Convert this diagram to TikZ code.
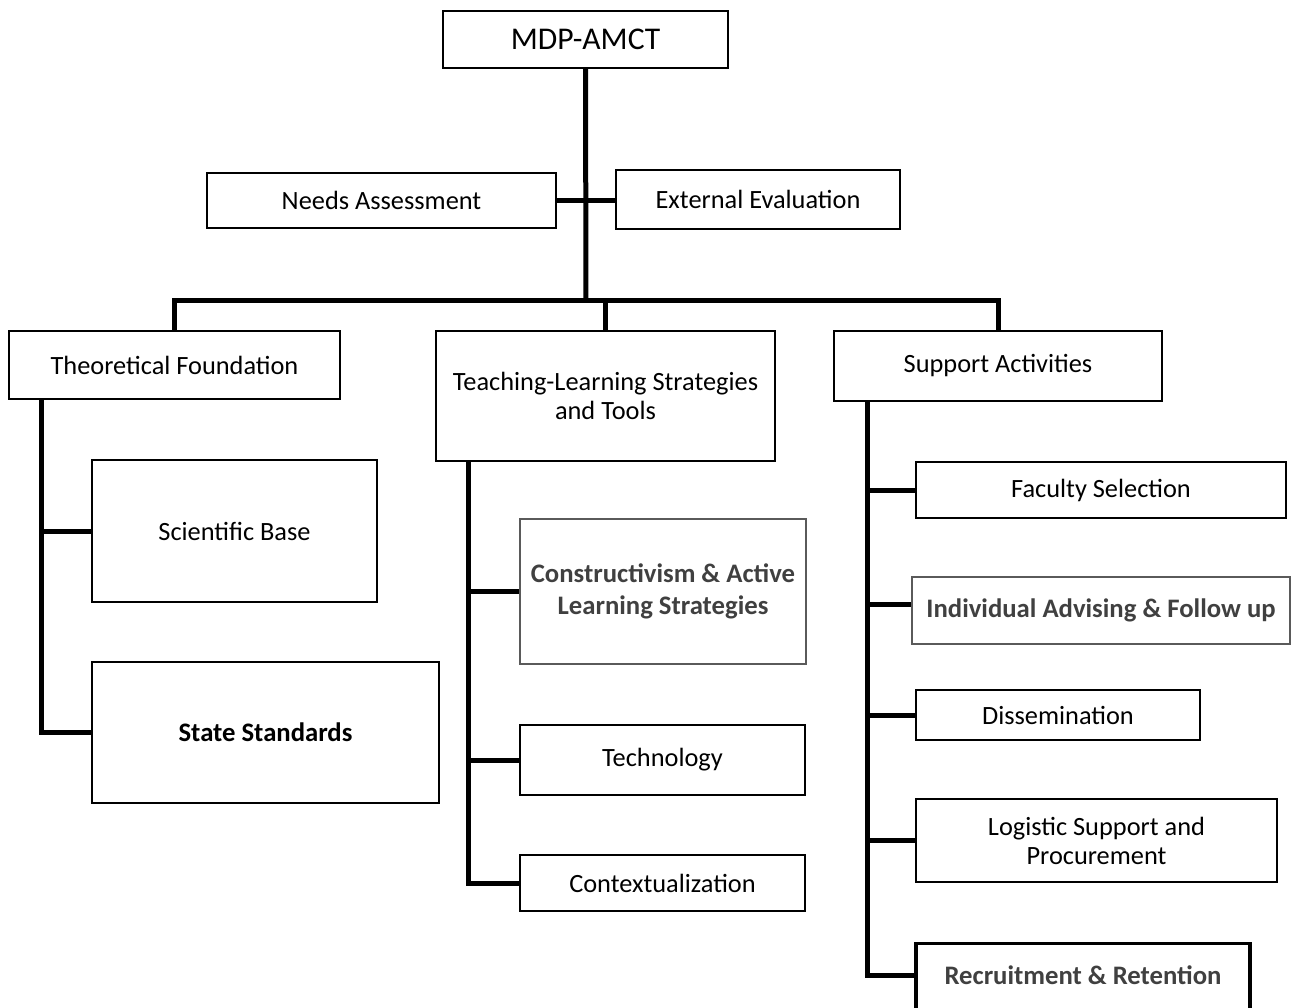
\documentclass[tikz,border=0pt]{standalone}
\usepackage{fontspec}
\setmainfont{Carlito}
\usetikzlibrary{positioning}
\definecolor{mdgrey}{HTML}{404040}
\definecolor{mdedge}{HTML}{5A5A5A}
\newcommand{\unit}{0.02cm}
\tikzset{
  box/.style={draw, line width=1.1pt, inner sep=2pt, align=center,
              font=\fontsize{15}{16.5}\selectfont},
  sz/.style 2 args={minimum width=#1*\unit, minimum height=#2*\unit},
  keybox/.style={box, draw=mdedge, line width=1.3pt, text=mdgrey,
                 font=\fontsize{15.2}{18}\selectfont\bfseries},
  link/.style={line width=0.1cm},
}

\begin{document}
\begin{tikzpicture}[x=\unit, y=-\unit]
    \useasboundingbox (0,0) rectangle (1296,1008);
    \clip (0,0) rectangle (1296,1008);
    % top and side boxes
    \node[box, sz={285}{57}, font=\fontsize{18}{20}\selectfont] (top)   at (585.5,39.5) {MDP-AMCT};
    \node[box, sz={349}{55}]  (needs) at (381.5,200.5) {Needs Assessment};
    \node[box, sz={284}{59}]  (eval)  at (758,199.5)   {External Evaluation};
    % main branches
    \node[box, sz={331}{68}]  (theo)  at (174.5,365)   {Theoretical Foundation};
    \node[box, sz={339}{130}] (teach) at (605.5,396)   {Teaching-Learning Strategies\\and Tools};
    \node[box, sz={328}{70}]  (supp)  at (998,366)     {Support Activities};
    % theoretical foundation
    \node[box, sz={285}{142}] (sci)   at (234.5,531)   {Scientific Base};
    \node[box, sz={347}{141}, font=\fontsize{15.2}{18}\selectfont\bfseries] (std) at (265.5,732.5) {State Standards};
    % teaching-learning
    \node[keybox, sz={286}{145}] (constr) at (663,591.5) {Constructivism \& Active\\Learning Strategies};
    \node[box, sz={285}{70}]  (tech)  at (662.5,760)   {Technology};
    \node[box, sz={285}{56}]  (ctx)   at (662.5,883)   {Contextualization};
    % support activities
    \node[box, sz={370}{56}]  (fac)   at (1101,490)    {Faculty Selection};
    \node[keybox, sz={378}{67}] (adv) at (1101,610.5)  {Individual Advising \& Follow up};
    \node[box, sz={284}{50}]  (dis)   at (1058,715)    {Dissemination};
    \node[box, sz={361}{83}]  (logi)  at (1096.5,840.5) {Logistic Support and\\Procurement};
    \node[keybox, draw=black, line width=1.8pt, minimum width=334*\unit, anchor=north,
          inner ysep=0pt, text height=41*\unit, text depth=70*\unit] (recr) at (1083,942) {Recruitment \& Retention};

    % connectors
    \coordinate (jbar) at (586,300);
    \draw[link] (top.south) -- (jbar);
    \draw[link] (needs.east) -- (needs.east -| eval.west);
    \draw[link] (theo.north) |- (jbar) -| (supp.north);
    \draw[link] (teach.north) -- (teach.north |- jbar);

    \draw[link] ([xshift=33*\unit]theo.south west) coordinate (tl) |- (std.west);
    \draw[link] (sci.west) -- (sci.west -| tl);

    \draw[link] ([xshift=33*\unit]teach.south west) coordinate (ml) |- (ctx.west);
    \draw[link] (constr.west) -- (constr.west -| ml);
    \draw[link] (tech.west) -- (tech.west -| ml);

    \draw[link] ([xshift=34*\unit]supp.south west) coordinate (rl) |- ([yshift=-33*\unit]recr.north west);
    \draw[link] (fac.west) -- (fac.west -| rl);
    \draw[link] ([yshift=6*\unit]adv.west) -- ([yshift=6*\unit]adv.west -| rl);
    \draw[link] (dis.west) -- (dis.west -| rl);
    \draw[link] (logi.west) -- (logi.west -| rl);
\end{tikzpicture}
\end{document}
